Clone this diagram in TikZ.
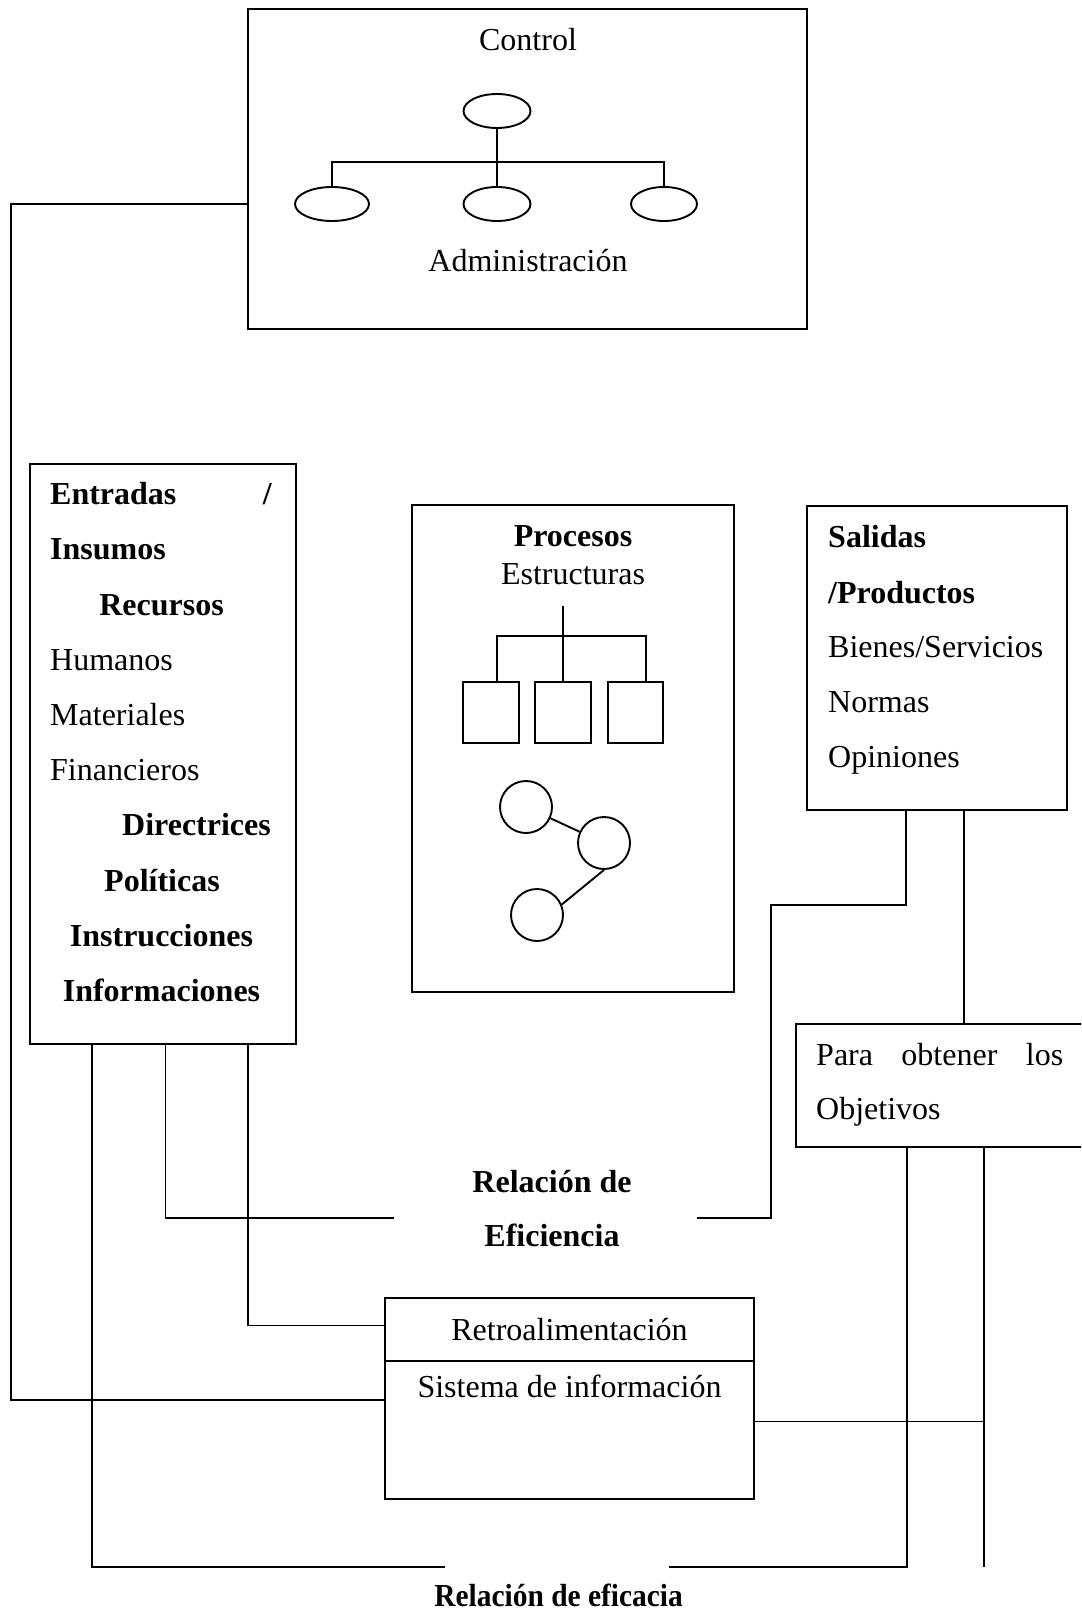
\documentclass[tikz,border=0pt]{standalone}
\usepackage{fontspec}
\usepackage{graphicx}
\setmainfont{Liberation Serif}
\usetikzlibrary{shapes.geometric}
\begin{document}
\begin{tikzpicture}[x=1pt,y=-1pt,
  every node/.style={font=\fontsize{32}{38}\selectfont},
  box/.style={draw, line width=1.9pt, inner sep=0pt, outer sep=0pt, anchor=north west},
  oval/.style={draw, ellipse, line width=1.9pt, inner sep=0pt, minimum width=67pt, minimum height=34pt},
  sq/.style={draw, rectangle, line width=1.9pt, inner sep=0pt, minimum width=56pt, minimum height=61pt},
  ring/.style={draw, circle, line width=1.9pt, inner sep=0pt, minimum size=52pt},
  txt/.style={inner sep=0pt, anchor=base},
  txtl/.style={inner sep=0pt, anchor=base west},
  txtr/.style={inner sep=0pt, anchor=base east},
  bold/.style={font=\fontsize{32}{38}\selectfont\bfseries},
  wire/.style={line width=1.9pt}]
\useasboundingbox (0,0) rectangle (1081,1613);
\clip (0,0) rectangle (1081,1613);

% ---- Control / Administracion ----
\node[box, minimum width=559pt, minimum height=320pt] (ctrl) at (248,9) {};
\node[txt] (tctrl) at (528,51) {Control};
\node[txt] (tadm) at (528,271) {Administración};
\node[oval] (o0) at (497,111) {};
\node[oval, minimum width=74pt] (o1) at (332,204) {};
\node[oval] (o2) at (497,204) {};
\node[oval, minimum width=66pt] (o3) at (664,204) {};
\coordinate (bar) at (497,162);
\draw[wire] (o0.south) -- (o2.north);
\draw[wire] (o1.north) |- (bar) -| (o3.north);

% ---- Entradas / Insumos ----
\node[box, minimum width=266pt, minimum height=580pt] (ent) at (30,464) {};
\node[txtl, bold] (en1) at (50,504.7) {Entradas};
\node[txtr, bold] (en1b) at (272,504.7) {/};
\node[txtl, bold] (en2) at (50,559.9) {Insumos};
\node[txt, bold] (en3) at (161.5,615.1) {Recursos};
\node[txtl] (en4) at (50,670.3) {Humanos};
\node[txtl] (en5) at (50,725.5) {Materiales};
\node[txtl] (en6) at (50,780.7) {Financieros};
\node[txtr, bold] (en7) at (271,835.9) {Directrices};
\node[txt, bold] (en8) at (162,891.1) {Políticas};
\node[txt, bold] (en9) at (161.5,946.3) {Instrucciones};
\node[txt, bold] (en10) at (161.5,1001.5) {Informaciones};

% ---- Procesos ----
\node[box, minimum width=322pt, minimum height=487pt] (proc) at (412,505) {};
\node[txt, bold] (tproc) at (573,546) {Procesos};
\node[txt] (testr) at (573,584) {Estructuras};
\coordinate (pt) at (563,606);
\node[sq] (sq1) at (491,712.5) {};
\node[sq] (sq2) at (563,712.5) {};
\node[sq, minimum width=55pt] (sq3) at (635.5,712.5) {};
\coordinate (l1) at (497,636);
\coordinate (l3) at (646,636);
\draw[wire] (pt) -- (sq2.north);
\draw[wire] (sq1.north -| l1) -- (l1) -- (l3) -- (sq3.north -| l3);
\node[ring] (c1) at (526,807) {};
\node[ring] (c2) at (604,843) {};
\node[ring] (c3) at (537,915) {};
\draw[wire] (c1) -- (c2);
\draw[wire] (c2.south) -- (c3.23);

% ---- Salidas / Productos ----
\node[box, minimum width=260pt, minimum height=304pt] (sal) at (807,506) {};
\node[txtl, bold] (sa1) at (828,547.9) {Salidas};
\node[txtl, bold] (sa2) at (828,603.4) {/Productos};
\node[txtl] (sa3) at (828,657.9) {Bienes/Servicios};
\node[txtl] (sa4) at (828,712.4) {Normas};
\node[txtl] (sa5) at (828,767.5) {Opiniones};

% ---- Objetivos ----
\node[box, minimum width=300pt, minimum height=123pt] (para) at (796,1024) {};
\node[txtl] (pa1) at (816,1065.5) {\makebox[247pt][s]{Para obtener los}};
\node[txtl] (pa2) at (816,1119.5) {Objetivos};

% ---- Retroalimentacion / Sistema de informacion ----
\node[box, minimum width=369pt, minimum height=201pt] (rs) at (385,1298) {};
\coordinate (div) at (385,1361);
\draw[wire] (div) -- (rs.east |- div);
\node[txt] (tretro) at (569.5,1340.6) {Retroalimentación};
\node[txt] (tsis) at (569.5,1397.5) {Sistema de información};

% ---- Relation labels ----
\node[txt, bold] (ef1) at (552,1192.6) {Relación de};
\node[txt, bold] (ef2) at (552,1246.6) {Eficiencia};
\node[txt, bold] (efc) at (558.6,1606.5) {\scalebox{0.92}[1]{Relación de eficacia}};

% ---- Connectors ----
\coordinate (lp1) at (11,204);
\coordinate (lp2) at (11,1400);
\draw[wire] (ctrl.west |- lp1) -- (lp1) -- (lp2) -- (rs.west |- lp2);

\coordinate (b1) at (92,1567);
\coordinate (efcL) at (445,1567);
\draw[wire] (ent.south -| b1) -- (b1) -- (efcL);

\coordinate (k2) at (165.5,1218);
\coordinate (effL) at (394,1218);
\draw[wire] (ent.south -| k2) -- (k2) -- (effL);

\coordinate (k3) at (248,1325.5);
\draw[wire] (ent.south -| k3) -- (k3) -- (rs.west |- k3);

\coordinate (d1) at (906,905);
\coordinate (d2) at (771,905);
\coordinate (d3) at (771,1218);
\coordinate (effR) at (697,1218);
\draw[wire] (sal.south -| d1) -- (d1) -- (d2) -- (d3) -- (effR);

\coordinate (e1) at (964,900);
\draw[wire] (sal.south -| e1) -- (para.north -| e1);

\coordinate (efcR) at (669,1567);
\coordinate (b2) at (907,1567);
\draw[wire] (efcR) -- (b2) -- (para.south -| b2);

\coordinate (b3) at (984,1567);
\draw[wire] (para.south -| b3) -- (b3);

\coordinate (s1) at (984,1421.5);
\draw[wire] (rs.east |- s1) -- (s1);
\end{tikzpicture}
\end{document}
